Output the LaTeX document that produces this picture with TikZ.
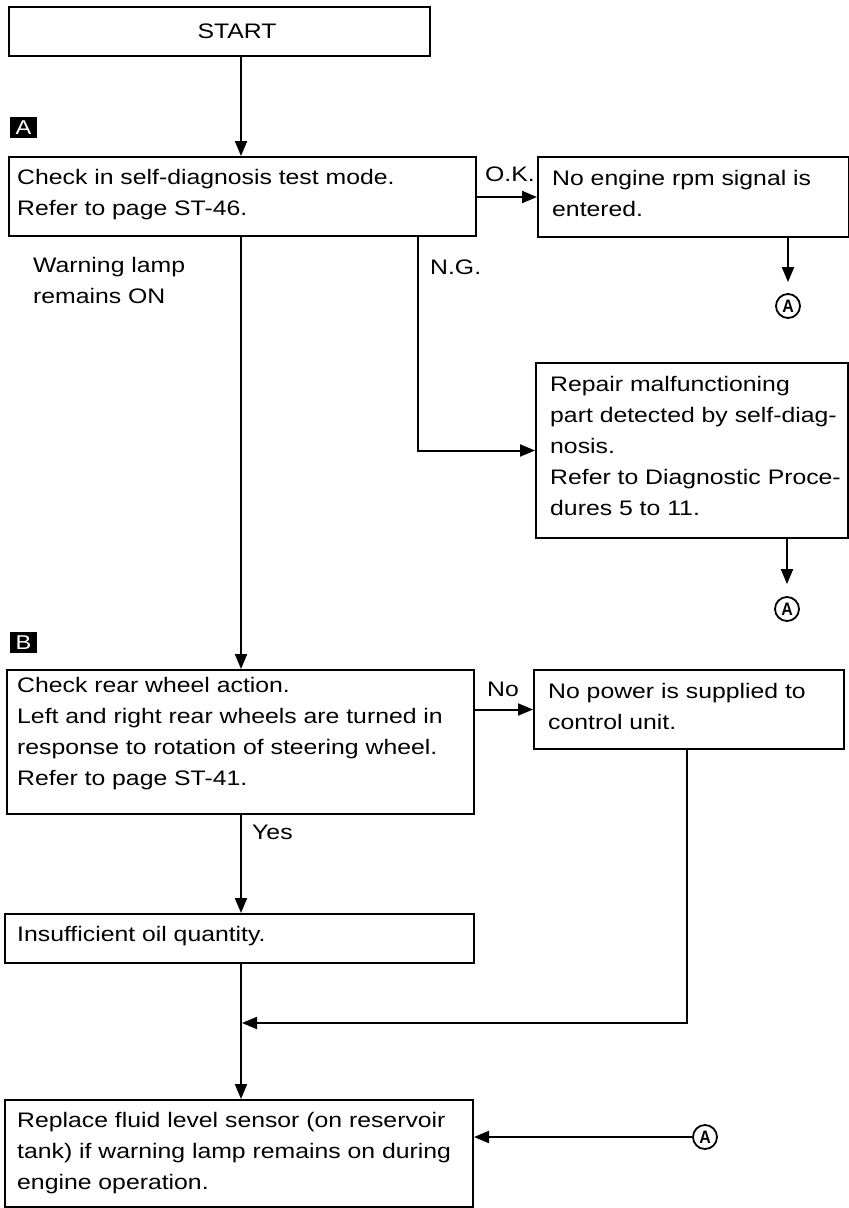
\documentclass[tikz,border=0pt]{standalone}
\usepackage{fontspec}
\usepackage{graphicx}
\setmainfont{Liberation Sans}[FakeStretch=1.18]
\usetikzlibrary{arrows.meta}
\begin{document}
\begin{tikzpicture}[x=1pt,y=-1pt,
  box/.style={draw, line width=2pt, rectangle, inner sep=0pt, anchor=north west},
  txt/.style={inner sep=0pt, align=left, anchor=west, font=\fontsize{21}{31}\selectfont},
  arr/.style={line width=2pt, -{Triangle[length=15pt,width=12pt]}},
  tag/.style={fill=black, text=white, inner sep=0pt, minimum width=27pt, minimum height=21pt, font=\fontsize{20}{20}\selectfont},
  circA/.style={draw, circle, line width=1.8pt, inner sep=0pt, minimum size=24pt, font=\fontsize{18}{18}\selectfont\bfseries}]
\useasboundingbox (0,0) rectangle (849,1208);

% boxes
\node[box, minimum width=421pt, minimum height=49pt] (start) at (8,6) {};
\node[box, minimum width=467pt, minimum height=79pt] (b1) at (8,156) {};
\node[box, minimum width=311pt, minimum height=80pt] (b2) at (537,156) {};
\node[box, minimum width=312pt, minimum height=175pt] (b3) at (535,362) {};
\node[box, minimum width=467pt, minimum height=144pt] (b4) at (6,669) {};
\node[box, minimum width=310pt, minimum height=79pt] (b5) at (533,669) {};
\node[box, minimum width=469pt, minimum height=49pt] (b6) at (4,913) {};
\node[box, minimum width=468pt, minimum height=107pt] (b7) at (4,1099) {};

% box texts
\node[txt, anchor=center] (tstart) at (237,31) {START};
\node[txt] (t1) at (17,195) {Check in self-diagnosis test mode.\\Refer to page ST-46.};
\node[txt] (t2) at (552,193) {No engine rpm signal is\\entered.};
\node[txt] (t3) at (550,446) {Repair malfunctioning\\part detected by self-diag-\\nosis.\\Refer to Diagnostic Proce-\\dures 5 to 11.};
\node[txt] (t4) at (17,734) {Check rear wheel action.\\Left and right rear wheels are turned in\\response to rotation of steering wheel.\\Refer to page ST-41.};
\node[txt] (t5) at (548,706) {No power is supplied to\\control unit.};
\node[txt] (t6) at (17,936) {Insufficient oil quantity.};
\node[txt] (t7) at (17,1153) {Replace fluid level sensor (on reservoir\\tank) if warning lamp remains on during\\engine operation.};

% free labels
\node[txt] (lwarn) at (33,280) {Warning lamp\\remains ON};
\node[txt] (lng) at (430,267) {N.G.};
\node[txt] (lok) at (485,174) {O.K.};
\node[txt] (lno) at (487,689) {No};
\node[txt] (lyes) at (252,832) {Yes};
\node[tag] (tagA) at (23.5,127.5) {A};
\node[tag] (tagB) at (23.5,642.5) {B};

% connector markers
\node[circA] (a1) at (788,306) {\scalebox{0.75}[1]{A}};
\node[circA] (a2) at (787,609) {\scalebox{0.75}[1]{A}};
\node[circA] (a3) at (705,1137) {\scalebox{0.75}[1]{A}};

\coordinate (xm) at (241,0);
\coordinate (xng) at (418,0);
\coordinate (x5) at (687,0);
\coordinate (yJ) at (0,1023);

% connectors
\draw[arr] (start.south -| xm) -- (b1.north -| xm);
\draw[arr] (b1.east |- b2.west) -- (b2.west);
\draw[arr] (b2.south -| a1) -- ([yshift=11pt]a1.north);
\draw[arr] (b1.south -| xng) |- (b3.west);
\draw[arr] (b3.south -| a2) -- ([yshift=12pt]a2.north);
\draw[arr] (b1.south -| xm) -- (b4.north -| xm);
\draw[arr] (b4.east |- b5.west) -- (b5.west);
\draw[arr] (b4.south -| xm) -- (b6.north -| xm);
\draw[arr] (b6.south -| xm) -- (b7.north -| xm);
\draw[arr] (b5.south -| x5) |- ([xshift=1pt]xm |- yJ);
\draw[arr] (a3.west) -- (b7.east |- a3.west);
\end{tikzpicture}
\end{document}
